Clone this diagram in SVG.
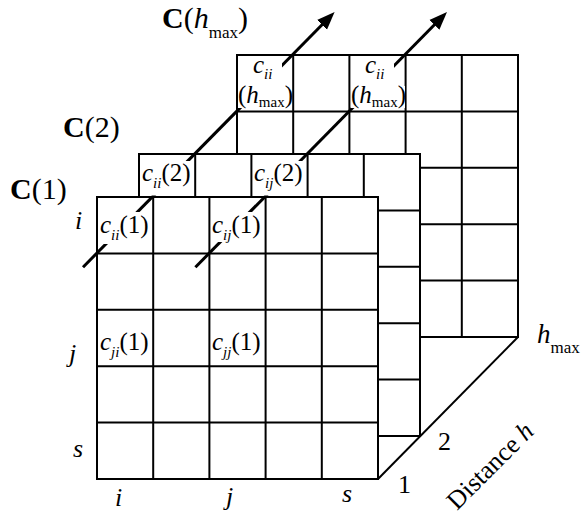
<svg xmlns="http://www.w3.org/2000/svg" xmlns:xlink="http://www.w3.org/1999/xlink" width="581" height="514" viewBox="0 0 581 514">
<defs>
<style>
.plane{fill:#fff;stroke:#000;stroke-width:2}
.gl{fill:none;stroke:#000;stroke-width:2}
.t{font-family:"Liberation Serif","Times New Roman",serif;font-size:25px;fill:#000}
.big{font-size:30px}
.lab{font-size:26px}
.it{font-style:italic}
.b{font-weight:bold}
.sub{font-size:15px}
.sub2{font-size:17px}
.bg{fill:#fff}
.depth{fill:none;stroke:#000;stroke-width:3;marker-end:url(#ah)}
.edge{fill:none;stroke:#000;stroke-width:2}
</style>
<marker id="ah" markerUnits="userSpaceOnUse" markerWidth="20" markerHeight="16" viewBox="0 0 20 16" refX="12" refY="8" orient="auto">
<path d="M0,1 L18,8 L0,15 Z" fill="#000"/>
</marker>
<g id="grid">
<rect class="plane" x="0" y="0" width="281" height="282"/>
<path class="gl" d="M56.2,0V282M112.4,0V282M168.6,0V282M224.8,0V282M0,56.4H281M0,112.8H281M0,169.2H281M0,225.6H281"/>
</g>
</defs>
<rect width="581" height="514" fill="#fff"/>

<g id="C-hmax"><use xlink:href="#grid" transform="translate(237,55)"/></g>
<g id="C-2"><use xlink:href="#grid" transform="translate(139,154)"/></g>
<g id="C-1"><use xlink:href="#grid" transform="translate(97,197)"/></g>

<g id="connectors">
<line class="depth" x1="83" y1="267.2" x2="330.4" y2="16.3"/>
<line class="depth" x1="195.4" y1="267.2" x2="442.8" y2="16.3"/>
<line class="edge" x1="378" y1="479" x2="518" y2="337"/>
</g>

<g id="C-hmax-cells">
<rect class="bg" x="250" y="58" width="32" height="28"/>
<rect class="bg" x="238" y="86" width="54" height="22"/>
<text class="t" x="253" y="73"><tspan class="it">c</tspan><tspan class="it sub" dy="6">ii</tspan></text>
<text class="t" x="238" y="103">(<tspan class="it">h</tspan><tspan class="sub" dy="4">max</tspan><tspan dy="-4">)</tspan></text>
<rect class="bg" x="362" y="58" width="32" height="28"/>
<rect class="bg" x="351" y="86" width="54" height="22"/>
<text class="t" x="365" y="73"><tspan class="it">c</tspan><tspan class="it sub" dy="6">ii</tspan></text>
<text class="t" x="351" y="103">(<tspan class="it">h</tspan><tspan class="sub" dy="4">max</tspan><tspan dy="-4">)</tspan></text>
</g>

<g id="C-2-cells">
<rect class="bg" x="141" y="161" width="52" height="34.5"/>
<text class="t" x="142" y="181"><tspan class="it">c</tspan><tspan class="it sub" dy="7">ii</tspan><tspan dy="-7">(2)</tspan></text>
<rect class="bg" x="253" y="161" width="52" height="34.5"/>
<text class="t" x="254" y="181"><tspan class="it">c</tspan><tspan class="it sub" dy="7">ij</tspan><tspan dy="-7">(2)</tspan></text>
</g>

<g id="C-1-cells">
<rect class="bg" x="99" y="212" width="52" height="32"/>
<text class="t" x="100" y="233"><tspan class="it">c</tspan><tspan class="it sub" dy="7">ii</tspan><tspan dy="-7">(1)</tspan></text>
<rect class="bg" x="211" y="212" width="53" height="30"/>
<text class="t" x="212" y="233"><tspan class="it">c</tspan><tspan class="it sub" dy="7">ij</tspan><tspan dy="-7">(1)</tspan></text>
<text class="t" x="100" y="350"><tspan class="it">c</tspan><tspan class="it sub" dy="7">ji</tspan><tspan dy="-7">(1)</tspan></text>
<text class="t" x="212" y="350"><tspan class="it">c</tspan><tspan class="it sub" dy="7">jj</tspan><tspan dy="-7">(1)</tspan></text>
</g>

<g id="labels">
<text class="t big" x="162" y="28"><tspan class="b">C</tspan>(<tspan class="it">h</tspan><tspan class="sub2" dy="10">max</tspan><tspan dy="-10">)</tspan></text>
<text class="t big" x="63" y="137"><tspan class="b">C</tspan>(2)</text>
<text class="t big" x="10" y="199"><tspan class="b">C</tspan>(1)</text>
<text class="t lab it" x="75" y="229">i</text>
<text class="t lab it" x="69" y="362">j</text>
<text class="t lab it" x="73" y="457">s</text>
<text class="t lab it" x="115" y="506">i</text>
<text class="t lab it" x="226" y="505">j</text>
<text class="t lab it" x="342" y="502">s</text>
<text class="t" x="537" y="343"><tspan class="it" font-size="27">h</tspan><tspan class="sub2" dy="10" font-size="16">max</tspan></text>
<text class="t lab" x="398" y="493">1</text>
<text class="t lab" x="438" y="450">2</text>
<text class="t lab" x="457" y="511" transform="rotate(-45 457 511)">Distance <tspan class="it">h</tspan></text>
</g>
</svg>
